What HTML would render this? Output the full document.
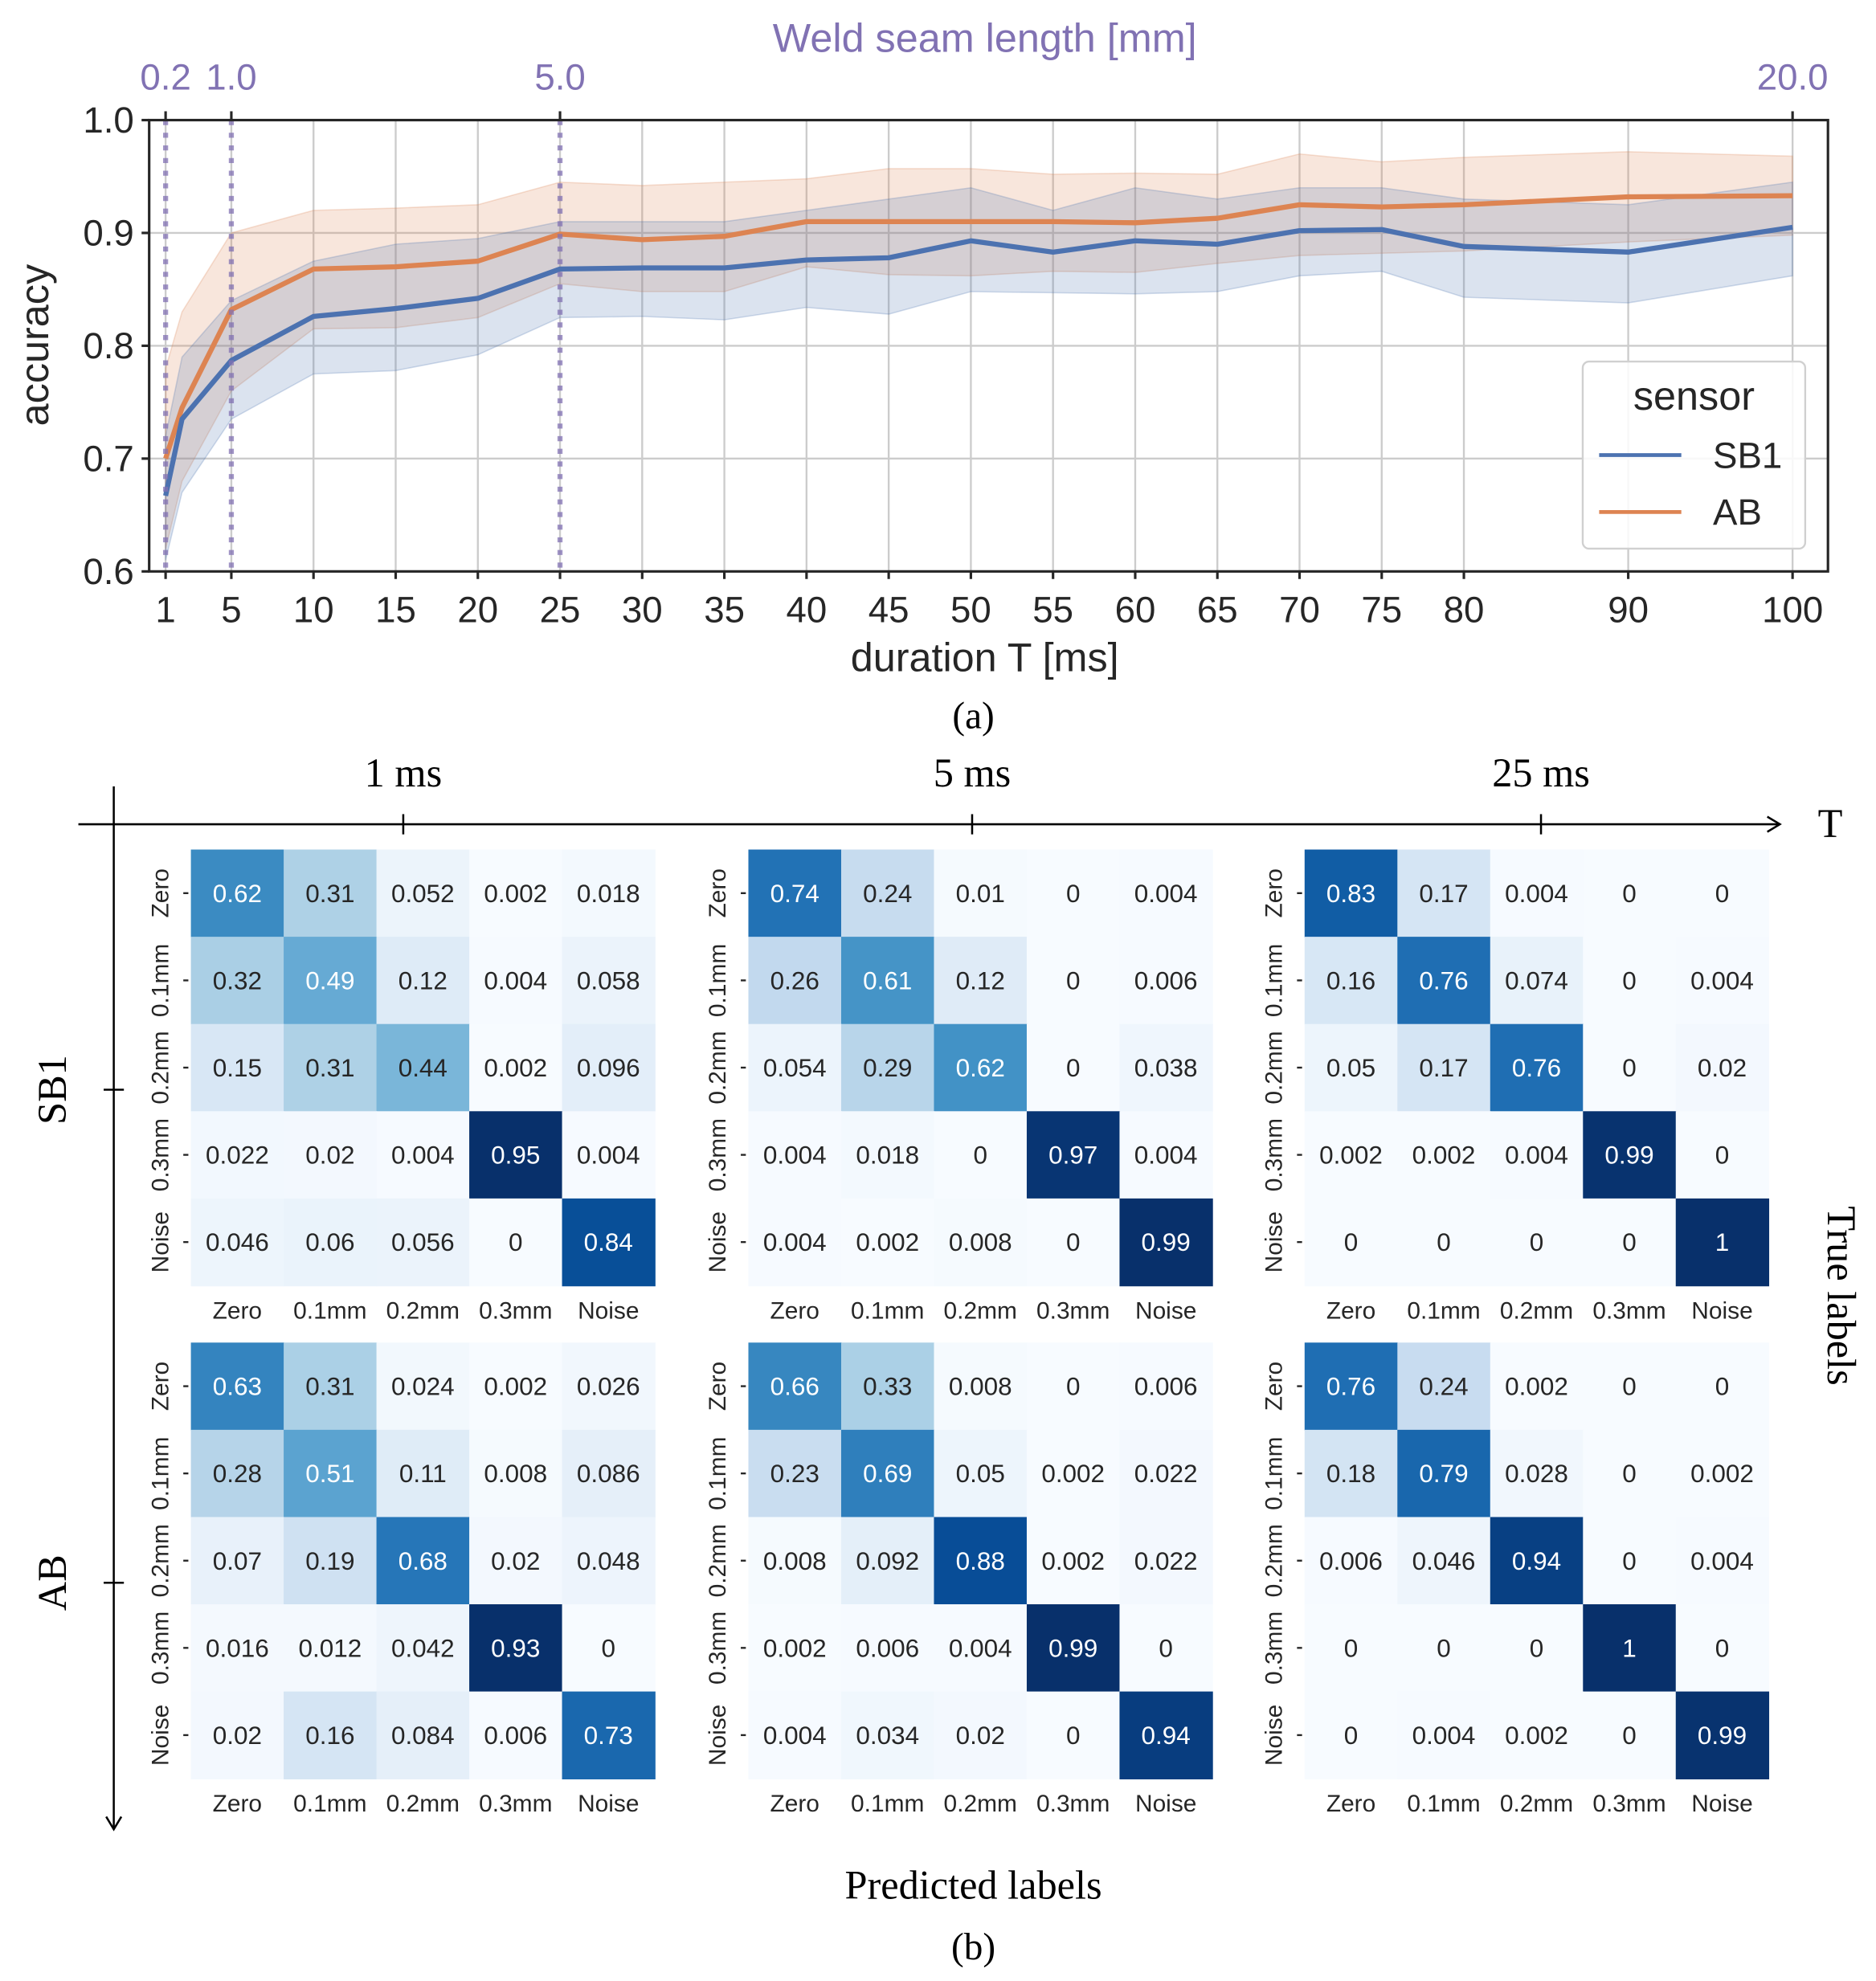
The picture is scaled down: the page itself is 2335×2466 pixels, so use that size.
<!DOCTYPE html>
<html><head><meta charset="utf-8"><style>
html,body{margin:0;padding:0;background:#fff}
svg{display:block}
.sans{font-family:"Liberation Sans",sans-serif}
.serif{font-family:"Liberation Serif",serif}
</style></head><body>
<svg id="fig" width="2335" height="2466" viewBox="0 0 1484 1567" preserveAspectRatio="none" xmlns="http://www.w3.org/2000/svg">
<g id="topchart"></g>
<g id="bottom"></g>
</svg>
<script>
const durations=[1,2,5,10,15,20,25,30,35,40,45,50,55,60,65,70,75,80,90,100];
const sb1Mean=[0.667,0.735,0.787,0.826,0.833,0.842,0.868,0.869,0.869,0.876,0.878,0.893,0.883,0.893,0.890,0.902,0.903,0.888,0.883,0.905];
const sb1Upper=[0.72,0.79,0.84,0.875,0.89,0.895,0.91,0.91,0.91,0.92,0.93,0.94,0.92,0.94,0.93,0.94,0.94,0.93,0.925,0.945];
const sb1Lower=[0.61,0.67,0.735,0.775,0.778,0.792,0.825,0.826,0.823,0.834,0.828,0.848,0.847,0.846,0.848,0.862,0.866,0.843,0.838,0.862];
const abMean=[0.700,0.745,0.832,0.868,0.870,0.875,0.899,0.894,0.897,0.910,0.910,0.910,0.910,0.909,0.913,0.925,0.923,0.925,0.932,0.933];
const abUpper=[0.78,0.83,0.90,0.92,0.922,0.925,0.945,0.942,0.945,0.948,0.957,0.957,0.952,0.953,0.952,0.97,0.963,0.967,0.972,0.968];
const abLower=[0.62,0.68,0.76,0.815,0.816,0.825,0.855,0.848,0.848,0.87,0.863,0.862,0.866,0.865,0.873,0.88,0.882,0.884,0.892,0.898];
const xTicks=[1,5,10,15,20,25,30,35,40,45,50,55,60,65,70,75,80,90,100];
const yTicks=[0.6,0.7,0.8,0.9,1.0];
const seamTicks=[1,5,25,100];
const seamLabels=["0.2","1.0","5.0","20.0"];
const seamLines=[1,5,25];

const classLabels=["Zero","0.1mm","0.2mm","0.3mm","Noise"];
const durLabels=["1 ms","5 ms","25 ms"];
const sensorLabels=["SB1","AB"];
const m_sb1_1=[[0.62,0.31,0.052,0.002,0.018],[0.32,0.49,0.12,0.004,0.058],[0.15,0.31,0.44,0.002,0.096],[0.022,0.02,0.004,0.95,0.004],[0.046,0.06,0.056,0,0.84]];
const m_sb1_5=[[0.74,0.24,0.01,0,0.004],[0.26,0.61,0.12,0,0.006],[0.054,0.29,0.62,0,0.038],[0.004,0.018,0,0.97,0.004],[0.004,0.002,0.008,0,0.99]];
const m_sb1_25=[[0.83,0.17,0.004,0,0],[0.16,0.76,0.074,0,0.004],[0.05,0.17,0.76,0,0.02],[0.002,0.002,0.004,0.99,0],[0,0,0,0,1]];
const m_ab_1=[[0.63,0.31,0.024,0.002,0.026],[0.28,0.51,0.11,0.008,0.086],[0.07,0.19,0.68,0.02,0.048],[0.016,0.012,0.042,0.93,0],[0.02,0.16,0.084,0.006,0.73]];
const m_ab_5=[[0.66,0.33,0.008,0,0.006],[0.23,0.69,0.05,0.002,0.022],[0.008,0.092,0.88,0.002,0.022],[0.002,0.006,0.004,0.99,0],[0.004,0.034,0.02,0,0.94]];
const m_ab_25=[[0.76,0.24,0.002,0,0],[0.18,0.79,0.028,0,0.002],[0.006,0.046,0.94,0,0.004],[0,0,0,1,0],[0,0.004,0.002,0,0.99]];

const NS="http://www.w3.org/2000/svg";
function mk(parent,tag,attrs,text){const e=document.createElementNS(NS,tag);for(const k in attrs)e.setAttribute(k,attrs[k]);if(text!==undefined)e.textContent=text;parent.appendChild(e);return e;}

// ---- top chart
const topG=document.getElementById('topchart');
const X0=118,X1=1446,Y0=95,Y1=452;
const xs=t=>131+(t-1)*13.0;
const ys=v=>Y1-(v-0.6)/0.4*(Y1-Y0);
for(const t of xTicks){const l=mk(topG,'line',{x1:xs(t),x2:xs(t),y1:Y0,y2:Y1,stroke:'#cccccc','stroke-width':1.5});}
for(const v of yTicks){const l=mk(topG,'line',{x1:X0,x2:X1,y1:ys(v),y2:ys(v),stroke:'#cccccc','stroke-width':1.5});}
function band(lo,hi,fill,stroke,name){let d='';durations.forEach((t,i)=>{d+=(i?'L':'M')+xs(t)+','+ys(hi[i]);});for(let i=durations.length-1;i>=0;i--)d+='L'+xs(durations[i])+','+ys(lo[i]);d+='Z';const p=mk(topG,'path',{d:d,fill:fill,'fill-opacity':0.2,stroke:stroke,'stroke-opacity':0.25,'stroke-width':1});}
band(abLower,abUpper,'#dd8452','#dd8452','ab-confidence-band');
band(sb1Lower,sb1Upper,'#4c72b0','#4c72b0','sb1-confidence-band');
function line(vals,color,name){const pts=durations.map((t,i)=>xs(t)+','+ys(vals[i])).join(' ');const p=mk(topG,'polyline',{points:pts,fill:'none',stroke:color,'stroke-width':4,'stroke-linejoin':'round'});}
line(abMean,'#dd8452','ab-line');
line(sb1Mean,'#4c72b0','sb1-line');
for(const t of seamLines){const l=mk(topG,'line',{x1:xs(t),x2:xs(t),y1:Y0,y2:Y1,stroke:'#8172b3','stroke-opacity':0.75,'stroke-width':4,'stroke-dasharray':'4,6'});}
const fr=mk(topG,'rect',{x:X0,y:Y0,width:X1-X0,height:Y1-Y0,fill:'none',stroke:'#262626','stroke-width':2});

xTicks.forEach(t=>{mk(topG,'line',{x1:xs(t),x2:xs(t),y1:Y1,y2:Y1+6,stroke:'#262626','stroke-width':2});const tx=mk(topG,'text',{x:xs(t),y:Y1+40,'text-anchor':'middle','font-size':29,fill:'#262626',class:'sans'},String(t));});
yTicks.forEach(v=>{mk(topG,'line',{x1:X0-6,x2:X0,y1:ys(v),y2:ys(v),stroke:'#262626','stroke-width':2});const tx=mk(topG,'text',{x:X0-12,y:ys(v)+10,'text-anchor':'end','font-size':29,fill:'#262626',class:'sans'},v.toFixed(1));});
seamTicks.forEach((t,i)=>{mk(topG,'line',{x1:xs(t),x2:xs(t),y1:Y0-7,y2:Y0,stroke:'#262626','stroke-width':2});const tx=mk(topG,'text',{x:xs(t),y:Y0-24,'text-anchor':'middle','font-size':29,fill:'#8172b3',class:'sans'},seamLabels[i]);});
let tt=mk(topG,'text',{x:779,y:41,'text-anchor':'middle','font-size':32,fill:'#8172b3',class:'sans'},'Weld seam length [mm]');
tt=mk(topG,'text',{x:779,y:531,'text-anchor':'middle','font-size':32,fill:'#262626',class:'sans'},'duration T [ms]');
tt=mk(topG,'text',{x:38,y:273,'text-anchor':'middle','font-size':32,fill:'#262626',class:'sans',transform:'rotate(-90 38 273)'},'accuracy');
tt=mk(topG,'text',{x:770,y:576,'text-anchor':'middle','font-size':30,fill:'#000',class:'serif'},'(a)');
const lg=mk(topG,'g',{});
mk(lg,'rect',{x:1252,y:286,width:176,height:148,rx:5,fill:'#fff','fill-opacity':0.85,stroke:'#d0d0d0','stroke-width':1.5});
mk(lg,'text',{x:1340,y:324,'text-anchor':'middle','font-size':32,fill:'#262626',class:'sans'},'sensor');
mk(lg,'line',{x1:1265,x2:1330,y1:360,y2:360,stroke:'#4c72b0','stroke-width':3});
let le=mk(lg,'text',{x:1355,y:370,'font-size':29,fill:'#262626',class:'sans'},'SB1');
mk(lg,'line',{x1:1265,x2:1330,y1:405,y2:405,stroke:'#dd8452','stroke-width':3});
le=mk(lg,'text',{x:1355,y:415,'font-size':29,fill:'#262626',class:'sans'},'AB');

// ---- bottom
const bot=document.getElementById('bottom');
const stops=[[247,251,255],[222,235,247],[198,219,239],[158,202,225],[107,174,214],[66,146,198],[33,113,181],[8,81,156],[8,48,107]];
function blues(f){f=Math.max(0,Math.min(1,f))*8;const i=Math.min(7,Math.floor(f)),r=f-i;const a=stops[i],b=stops[i+1];return 'rgb('+a.map((c,k)=>Math.round(c+(b[k]-c)*r)).join(',')+')';}
const mats=[[m_sb1_1,m_sb1_5,m_sb1_25],[m_ab_1,m_ab_5,m_ab_25]];
const colX=[151,592,1032],rowY=[672,1062],CW=73.4,CH=69;
mats.forEach((row,ri)=>row.forEach((m,ci)=>{
 const g=mk(bot,'g',{});
 const flat=m.flat(),mn=Math.min(...flat),mx=Math.max(...flat);
 const x0=colX[ci],y0=rowY[ri];
 m.forEach((r,i)=>r.forEach((v,j)=>{
  const f=(v-mn)/(mx-mn);
  const c=mk(g,'rect',{x:x0+j*CW,y:y0+i*CH,width:CW+0.5,height:CH+0.5,fill:blues(f)});
  
  const t=mk(g,'text',{x:x0+j*CW+CW/2,y:y0+i*CH+CH/2+7,'text-anchor':'middle','font-size':20,fill:f>0.5?'#fff':'#262626',class:'sans'},String(v));
  
 }));
 classLabels.forEach((lab,j)=>{
  const t=mk(g,'text',{x:x0+j*CW+CW/2,y:y0+5*CH+26,'text-anchor':'middle','font-size':19,fill:'#262626',class:'sans'},lab);
  
  mk(g,'line',{x1:x0-6,x2:x0-2,y1:y0+j*CH+CH/2,y2:y0+j*CH+CH/2,stroke:'#262626','stroke-width':1.5});
  const yy=y0+j*CH+CH/2,xx=x0-18;
  const t2=mk(g,'text',{x:xx,y:yy,'text-anchor':'middle','font-size':19,fill:'#262626',class:'sans',transform:'rotate(-90 '+xx+' '+yy+')'},lab);
  
 });
}));
// axes arrows
const ax=mk(bot,'g',{stroke:'#000','stroke-width':1.6,fill:'none'});
mk(ax,'line',{x1:62,x2:1408,y1:652,y2:652});mk(ax,'polyline',{points:'1398,646 1408,652 1398,658'});
[319,769,1219].forEach(x=>mk(ax,'line',{x1:x,x2:x,y1:644,y2:660}));
const ay=mk(bot,'g',{stroke:'#000','stroke-width':1.6,fill:'none'});
mk(ay,'line',{x1:90,x2:90,y1:622,y2:1447});mk(ay,'polyline',{points:'84,1437 90,1447 96,1437'});
[862,1252].forEach(y=>mk(ay,'line',{x1:82,x2:98,y1:y,y2:y}));
durLabels.forEach((d,i)=>{const t=mk(bot,'text',{x:[319,769,1219][i],y:622,'text-anchor':'middle','font-size':32,fill:'#000',class:'serif'},d);});
let tl=mk(bot,'text',{x:1438,y:662,'font-size':32,fill:'#000',class:'serif'},'T');
sensorLabels.forEach((s,i)=>{const y=[862,1252][i];const e=mk(bot,'text',{x:52,y:y,'text-anchor':'middle','font-size':32,fill:'#000',class:'serif',transform:'rotate(-90 52 '+y+')'},s);});
tl=mk(bot,'text',{x:1446,y:1025,'text-anchor':'middle','font-size':32,fill:'#000',class:'serif',transform:'rotate(90 1446 1025)'},'True labels');
tl=mk(bot,'text',{x:770,y:1502,'text-anchor':'middle','font-size':32,fill:'#000',class:'serif'},'Predicted labels');
tl=mk(bot,'text',{x:770,y:1550,'text-anchor':'middle','font-size':30,fill:'#000',class:'serif'},'(b)');
</script>
</body></html>
